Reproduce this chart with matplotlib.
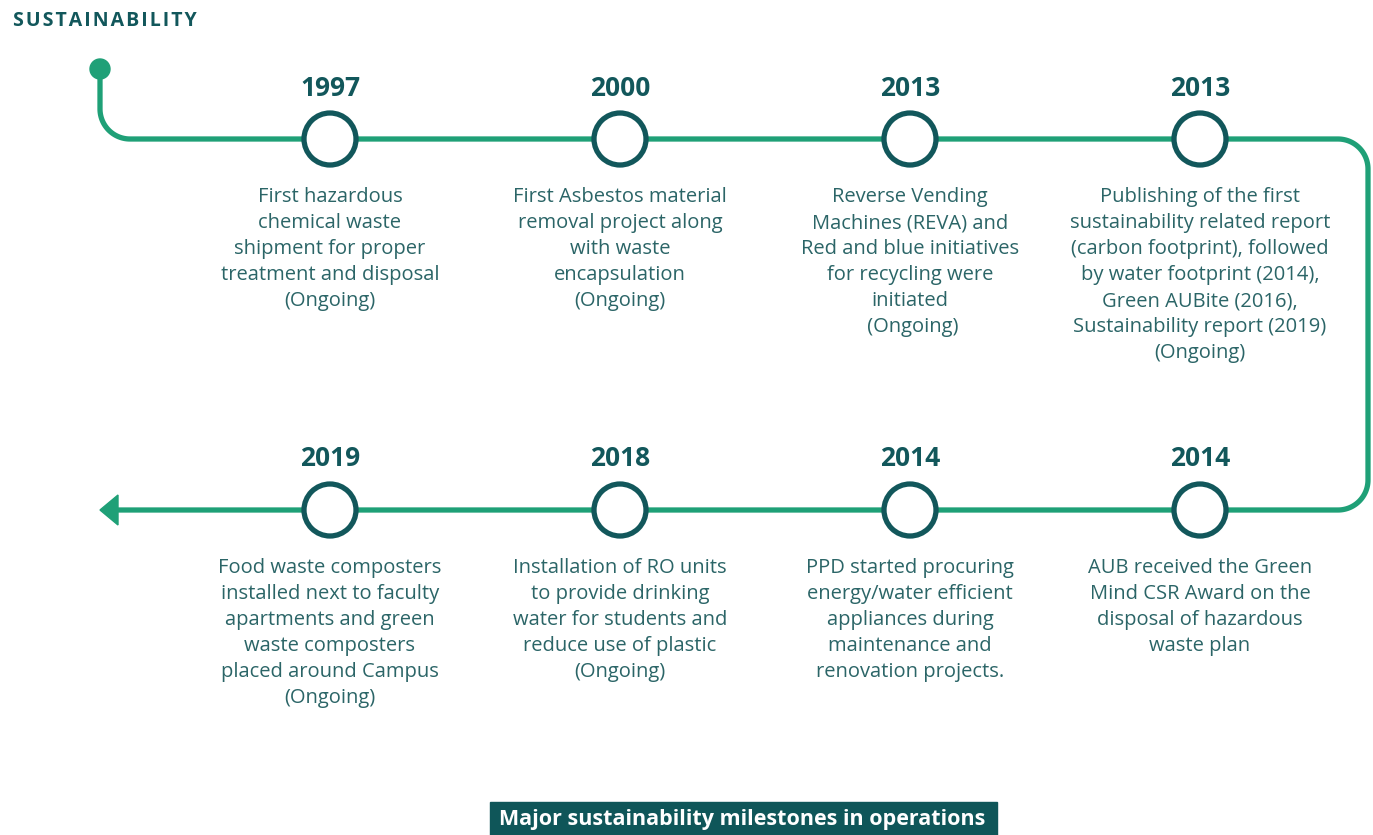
import numpy as np
import matplotlib.pyplot as plt
from matplotlib.patches import Circle, Polygon, Rectangle

plt.rcParams['font.family'] = ['Open Sans', 'DejaVu Sans']

# milestone data (top row left->right, bottom row left->right)
top_years = ['1997', '2000', '2013', '2013']
top_texts = [
    'First hazardous\nchemical waste\nshipment for proper\ntreatment and disposal\n(Ongoing)',
    'First Asbestos material\nremoval project along\nwith waste\nencapsulation\n(Ongoing)',
    'Reverse Vending\nMachines (REVA) and\nRed and blue initiatives\nfor recycling were\ninitiated\n (Ongoing)',
    'Publishing of the first\nsustainability related report\n(carbon footprint), followed\nby water footprint (2014),\nGreen AUBite (2016),\nSustainability report (2019)\n(Ongoing)',
]
bottom_years = ['2019', '2018', '2014', '2014']
bottom_texts = [
    'Food waste composters\ninstalled next to faculty\napartments and green\nwaste composters\nplaced around Campus\n(Ongoing)',
    'Installation of RO units\nto provide drinking\nwater for students and\nreduce use of plastic\n(Ongoing)',
    'PPD started procuring\nenergy/water efficient\nappliances during\nmaintenance and\nrenovation projects.',
    'AUB received the Green\nMind CSR Award on the\ndisposal of hazardous\nwaste plan',
]

GREEN = '#1fa077'
DARK = '#12575b'
TXT = '#2b6567'

W, H = 1373, 835
fig = plt.figure(figsize=(W / 100, H / 100), dpi=100)
ax = fig.add_axes([0, 0, 1, 1])
ax.set_xlim(0, W)
ax.set_ylim(H, 0)
ax.axis('off')

xs = [330, 620, 910, 1200]
y_top, y_bot = 139, 510
r = 30
xr = 1368

# path of the timeline
def arc(cx, cy, a0, a1, n=30):
    t = np.radians(np.linspace(a0, a1, n))
    return cx + r * np.cos(t), cy + r * np.sin(t)

px, py = [100], [69]
ax1, ay1 = arc(100 + r, y_top - r, 180, 90)
px += list(ax1); py += list(ay1)
ax2, ay2 = arc(xr - r, y_top + r, -90, 0)
px += list(ax2); py += list(ay2)
ax3, ay3 = arc(xr - r, y_bot - r, 0, 90)
px += list(ax3); py += list(ay3)
px += [115]; py += [y_bot]
ax.plot(px, py, color=GREEN, lw=3.8, solid_capstyle='butt', zorder=1)

ax.add_patch(Circle((100, 69), 10, color=GREEN, zorder=2))
ax.add_patch(Polygon([[100, y_bot], [118, y_bot - 15], [118, y_bot + 15]],
                     closed=True, color=GREEN, zorder=2))

for row_y, years, texts in [(y_top, top_years, top_texts), (y_bot, bottom_years, bottom_texts)]:
    for x, yr, t in zip(xs, years, texts):
        ax.add_patch(Circle((x, row_y), 26, facecolor='white', edgecolor=DARK, lw=3.8, zorder=3))
        ax.text(x, row_y - 51, yr, ha='center', va='center', fontsize=19,
                fontweight='bold', color=DARK)
        ax.text(x, row_y + 48, t, ha='center', va='top', fontsize=14.5,
                color=TXT, linespacing=1.40)

ax.text(13, 21, '\u200a'.join('SUSTAINABILITY'), ha='left', va='center',
        fontsize=14, fontweight='bold', color=DARK)

ax.add_patch(Rectangle((490, 802), 507, 33, color='#0f5659', zorder=1))
ax.text(742, 820, 'Major sustainability milestones in operations', ha='center',
        va='center', fontsize=15.5, fontweight='bold', color='white', zorder=2)

fig.savefig('out.png', dpi=100)
